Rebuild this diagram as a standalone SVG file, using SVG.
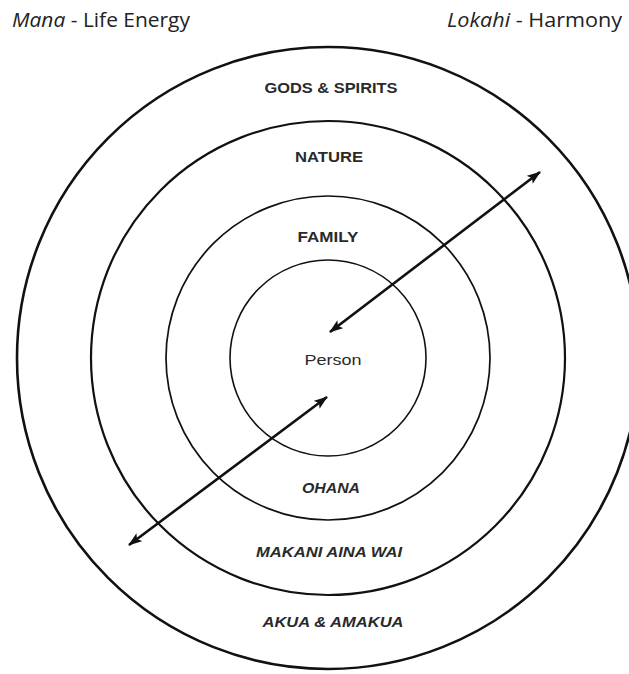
<svg xmlns="http://www.w3.org/2000/svg" width="629" height="674" viewBox="0 0 629 674">
  <defs>
    <marker id="ah" viewBox="0 0 14 10" refX="13" refY="5" markerWidth="14" markerHeight="10" markerUnits="userSpaceOnUse" orient="auto-start-reverse">
      <path d="M0,0 L14,5 L0,10 L3,5 z" fill="#111"/>
    </marker>
    <style>
      .ring { fill: none; stroke: #111; }
      .lbl { font-family: "Liberation Sans", Arial, sans-serif; font-size: 14px; font-weight: bold; fill: #2a2a2a; text-anchor: middle; }
      .it { font-style: italic; }
      .title { font-family: "Open Sans", "Noto Sans", sans-serif; font-size: 20px; fill: #222; }
      .arrow { stroke: #111; stroke-width: 2.6; fill: none; marker-start: url(#ah); marker-end: url(#ah); }
    </style>
  </defs>
  <rect width="629" height="674" fill="#fff"/>

  <g id="titles">
    <text class="title" x="12" y="27" textLength="178" lengthAdjust="spacingAndGlyphs"><tspan font-style="italic">Mana</tspan> - Life Energy</text>
    <text class="title" x="447" y="27" textLength="175" lengthAdjust="spacingAndGlyphs"><tspan font-style="italic">Lokahi</tspan> - Harmony</text>
  </g>

  <g id="ring-gods">
    <circle class="ring" cx="328" cy="358" r="311" stroke-width="2.6"/>
    <text class="lbl" x="331" y="93" textLength="133" lengthAdjust="spacingAndGlyphs">GODS &amp; SPIRITS</text>
    <text class="lbl it" x="333" y="627" textLength="141" lengthAdjust="spacingAndGlyphs">AKUA &amp; AMAKUA</text>
  </g>

  <g id="ring-nature">
    <circle class="ring" cx="328" cy="358" r="237" stroke-width="2.2"/>
    <text class="lbl" x="329" y="162" textLength="68" lengthAdjust="spacingAndGlyphs">NATURE</text>
    <text class="lbl it" x="329" y="557" textLength="146" lengthAdjust="spacingAndGlyphs">MAKANI AINA WAI</text>
  </g>

  <g id="ring-family">
    <circle class="ring" cx="328" cy="358" r="162" stroke-width="1.7"/>
    <text class="lbl" x="328" y="242" textLength="61" lengthAdjust="spacingAndGlyphs">FAMILY</text>
    <text class="lbl it" x="331" y="493" textLength="58" lengthAdjust="spacingAndGlyphs">OHANA</text>
  </g>

  <g id="person">
    <circle class="ring" cx="328" cy="358" r="98" stroke-width="1.6"/>
    <text x="333" y="365" font-family="'Liberation Sans', Arial, sans-serif" font-size="14" fill="#2a2a2a" text-anchor="middle" textLength="57" lengthAdjust="spacingAndGlyphs">Person</text>
  </g>

  <g id="connectors">
    <line class="arrow" x1="330" y1="332" x2="540" y2="172"/>
    <line class="arrow" x1="129" y1="545" x2="327" y2="397"/>
  </g>
</svg>
